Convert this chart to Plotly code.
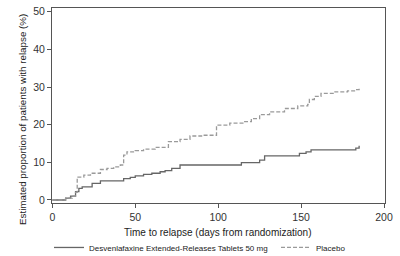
import plotly.graph_objects as go

desv_days = [0, 8, 11, 14, 16, 18, 24, 29, 43, 47, 50, 55, 60, 65, 68, 72, 77, 114, 125, 128, 149, 153, 156, 183, 185]
desv_pct = [0, 0.5, 1.0, 2.2, 3.1, 3.5, 4.4, 5.1, 5.7, 6.0, 6.4, 6.8, 7.1, 7.5, 7.8, 8.4, 9.3, 9.9, 10.6, 11.7, 12.4, 12.8, 13.3, 13.8, 14.4]

plac_days = [0, 8, 12, 14, 15, 19, 23, 29, 33, 37, 41, 43, 45, 50, 55, 62, 70, 77, 83, 90, 99, 107, 116, 120, 125, 131, 140, 148, 154, 155, 158, 162, 170, 178, 183, 185]
plac_pct = [0, 0.5, 1.0, 2.0, 6.1, 6.6, 7.1, 8.1, 8.4, 8.8, 9.3, 11.9, 12.8, 13.1, 13.5, 14.0, 15.5, 16.1, 17.0, 17.2, 19.9, 20.4, 20.8, 21.6, 22.7, 23.4, 24.3, 25.0, 25.4, 26.7, 27.5, 28.3, 28.7, 29.0, 29.3, 30.0]

x_ticks = [0, 50, 100, 150, 200]
y_ticks = [0, 10, 20, 30, 40, 50]

font_family = "Liberation Sans, Arial, sans-serif"

fig = go.Figure()
fig.add_trace(go.Scatter(x=desv_days, y=desv_pct, mode="lines", line_shape="hv",
                         line=dict(color="#666666", width=1.3),
                         name="Desvenlafaxine Extended-Releases Tablets 50 mg",
                         legend="legend"))
fig.add_trace(go.Scatter(x=plac_days, y=plac_pct, mode="lines", line_shape="hv",
                         line=dict(color="#9a9a9a", width=1.3, dash="4px,2px"),
                         name="Placebo", legend="legend2"))

axis_common = dict(showgrid=False, zeroline=False, showline=True, linecolor="#555555",
                   linewidth=1, mirror=True, ticks="outside", ticklen=4, tickcolor="#555555",
                   tickfont=dict(size=10.5, color="#333333", family=font_family))

fig.update_xaxes(range=[-0.2, 200.6], tickvals=x_ticks, **axis_common)
fig.update_yaxes(range=[-0.8, 51], tickvals=y_ticks, **axis_common)

fig.add_annotation(text="Time to relapse (days from randomization)",
                   xref="paper", yref="paper", x=0.498, y=-0.149, xanchor="center", yanchor="middle",
                   showarrow=False, font=dict(size=10, color="#222222", family=font_family))
fig.add_annotation(text="Estimated proportion of patients with relapse (%)",
                   xref="paper", yref="paper", x=-0.087, y=0.426, xanchor="center", yanchor="middle",
                   textangle=-90, showarrow=False,
                   font=dict(size=9.8, color="#222222", family=font_family))

legend_common = dict(orientation="h", xanchor="left", yanchor="top", xref="container", yref="container",
                     y=0.09, font=dict(size=8, color="#222222", family=font_family),
                     bgcolor="rgba(0,0,0,0)", borderwidth=0)

fig.update_layout(
    width=400, height=256,
    margin=dict(l=52, r=15, t=8, b=53, autoexpand=False),
    paper_bgcolor="white", plot_bgcolor="white",
    font=dict(family=font_family, color="#222222"),
    legend=dict(x=0.1225, **legend_common),
    legend2=dict(x=0.69, **legend_common),
    showlegend=True,
)

fig.write_html("out.html")
